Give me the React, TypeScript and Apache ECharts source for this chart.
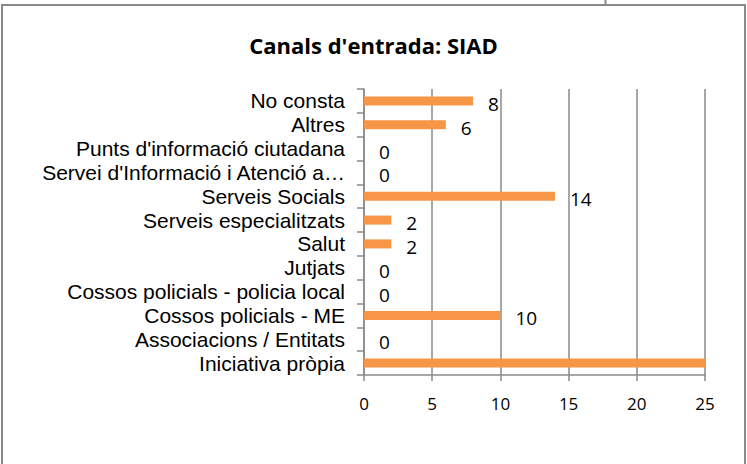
import React, { useEffect, useRef } from "react";
import * as echarts from "echarts";

const categories = [
  "Iniciativa pròpia",
  "Associacions / Entitats",
  "Cossos policials - ME",
  "Cossos policials - policia local",
  "Jutjats",
  "Salut",
  "Serveis especialitzats",
  "Serveis Socials",
  "Servei d'Informació i Atenció a…",
  "Punts d'informació ciutadana",
  "Altres",
  "No consta",
];
const values = [25, 0, 10, 0, 0, 2, 2, 14, 0, 0, 6, 8];
const xTicks = [0, 5, 10, 15, 20, 25];
const title = "Canals d'entrada: SIAD";

export default function App() {
  const ref = useRef<HTMLDivElement>(null);
  useEffect(() => {
    if (!ref.current) return;
    const chart = echarts.init(ref.current, null, { renderer: "svg" });
    const gray = "#8a8a8a";
    const xMax = xTicks[xTicks.length - 1];
    chart.setOption({
      animation: false,
      backgroundColor: "#ffffff",
      title: {
        text: title,
        left: "center",
        top: 29,
        textStyle: {
          fontFamily: "'Open Sans', sans-serif",
          fontWeight: "bold",
          fontSize: 22,
          color: "#000",
        },
      },
      grid: { left: 364, right: 42, top: 89, bottom: 89, containLabel: false },
      xAxis: {
        type: "value",
        min: xTicks[0],
        max: xMax,
        interval: 5,
        axisLine: { show: true, lineStyle: { color: gray, width: 1.5 } },
        axisTick: { show: true, length: 6, lineStyle: { color: gray, width: 1.5 } },
        splitLine: { show: true, lineStyle: { color: gray, width: 1.5 } },
        axisLabel: {
          fontFamily: "'Open Sans', sans-serif",
          fontSize: 17,
          color: "#000",
          margin: 20,
        },
      },
      yAxis: {
        type: "category",
        data: categories,
        axisLine: { show: true, lineStyle: { color: gray, width: 1.5 } },
        axisTick: { show: true, length: 7, lineStyle: { color: gray, width: 1.5 } },
        axisLabel: {
          interval: 0,
          fontFamily: "'Liberation Sans', Arial, sans-serif",
          fontSize: 21,
          lineHeight: 22,
          color: "#000",
          margin: 19,
        },
      },
      series: [
        {
          type: "bar",
          data: values.map((v) => ({
            value: v,
            label: { show: v < xMax },
          })),
          barWidth: 9,
          itemStyle: { color: "#F79646" },
          label: {
            show: true,
            position: "right",
            distance: 15,
            offset: [0, 3],
            fontFamily: "'Open Sans', sans-serif",
            fontSize: 19,
            lineHeight: 18,
            color: "#000",
          },
        },
      ],
      graphic: [
        { type: "line", shape: { x1: 2, y1: 5, x2: 746, y2: 5 }, style: { stroke: gray, lineWidth: 2 } },
        { type: "line", shape: { x1: 2, y1: 4, x2: 2, y2: 464 }, style: { stroke: gray, lineWidth: 2 } },
        { type: "line", shape: { x1: 745, y1: 4, x2: 745, y2: 464 }, style: { stroke: gray, lineWidth: 2 } },
        { type: "line", shape: { x1: 605.5, y1: 0, x2: 605.5, y2: 5 }, style: { stroke: gray, lineWidth: 2 } },
      ],
    });
    return () => chart.dispose();
  }, []);
  return (
    <div
      ref={ref}
      style={{ position: "fixed", left: 0, top: 0, width: 747, height: 464 }}
    />
  );
}
